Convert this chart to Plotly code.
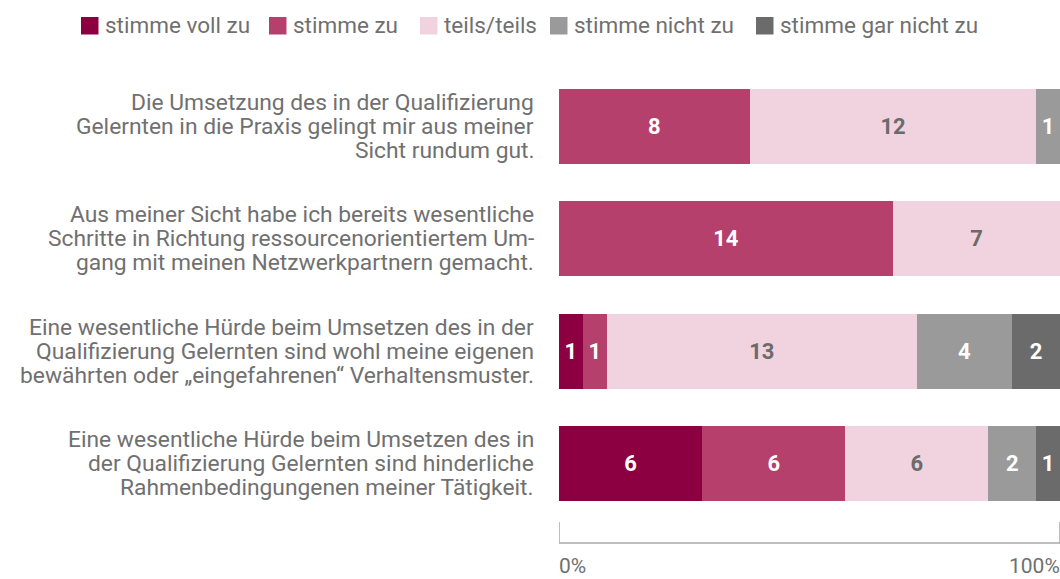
import plotly.graph_objects as go

categories = [
    "Die Umsetzung des in der Qualifizierung<br>Gelernten in die Praxis gelingt mir aus meiner<br>Sicht rundum gut.",
    "Aus meiner Sicht habe ich bereits wesentliche<br>Schritte in Richtung ressourcenorientiertem Um-<br>gang mit meinen Netzwerkpartnern gemacht.",
    "Eine wesentliche Hürde beim Umsetzen des in der<br>Qualifizierung Gelernten sind wohl meine eigenen<br>bewährten oder „eingefahrenen“ Verhaltensmuster.",
    "Eine wesentliche Hürde beim Umsetzen des in<br>der Qualifizierung Gelernten sind hinderliche<br>Rahmenbedingungenen meiner Tätigkeit.",
]
series_names = ["stimme voll zu", "stimme zu", "teils/teils", "stimme nicht zu", "stimme gar nicht zu"]
voll_zu = [0, 0, 1, 6]
zu = [8, 14, 1, 6]
teils = [12, 7, 13, 6]
nicht_zu = [1, 0, 4, 2]
gar_nicht_zu = [0, 0, 2, 1]
series_values = [voll_zu, zu, teils, nicht_zu, gar_nicht_zu]
axis_labels = ["0%", "100%"]

colors = ["#8C0041", "#B5406B", "#F0D3DE", "#9A9A9A", "#6B6B6B"]
text_colors = ["#FFFFFF", "#FFFFFF", "#6B6B6B", "#FFFFFF", "#FFFFFF"]
label_gray = "#707070"
FONT = "Roboto"

W, H = 1060, 579
ML, MR, MT, MB = 559, 0, 70, 59
PW, PH = W - ML - MR, H - MT - MB

def px_x(p):
    return (p - ML) / PW

def px_y(p):
    return (H - MB - p) / PH

fig = go.Figure()
for name, vals, col, tcol in zip(series_names, series_values, colors, text_colors):
    fig.add_trace(go.Bar(
        y=categories, x=vals, name=name, orientation="h",
        marker=dict(color=col, line=dict(width=0)),
        text=[str(v) if v else "" for v in vals],
        textposition="inside", insidetextanchor="middle",
        textfont=dict(family=FONT, size=22, color=tcol, weight="bold"),
        constraintext="none", cliponaxis=False, showlegend=False,
        hoverinfo="skip",
    ))

# category labels, one annotation per line (tight line spacing)
LINE_H = 24
for cat in categories:
    lines = cat.split("<br>")
    n = len(lines)
    for i, ln in enumerate(lines):
        fig.add_annotation(xref="paper", yref="y", x=px_x(535), y=cat, text=ln,
                           showarrow=False, xanchor="right", yanchor="middle",
                           yshift=((n - 1) / 2 - i) * LINE_H, borderpad=0,
                           font=dict(family=FONT, size=22.8, color=label_gray))

# legend (manual)
swatch_x = [81, 269, 420, 550, 756]
for name, col, sx in zip(series_names, colors, swatch_x):
    fig.add_shape(type="rect", xref="paper", yref="paper",
                  x0=px_x(sx), x1=px_x(sx + 17.5), y0=px_y(34.5), y1=px_y(17),
                  fillcolor=col, line=dict(width=0))
    fig.add_annotation(xref="paper", yref="paper", x=px_x(sx + 23.5), y=px_y(25),
                       text=name, showarrow=False, xanchor="left", yanchor="middle",
                       xshift=-1, borderpad=0,
                       font=dict(family=FONT, size=22.5, color=label_gray))

# bottom bracket axis
line_col = "#A8A8A8"
fig.add_shape(type="line", xref="x", yref="paper", x0=0, x1=100,
              y0=px_y(543), y1=px_y(543), line=dict(color=line_col, width=1.5))
for xv in (0, 100):
    fig.add_shape(type="line", xref="x", yref="paper", x0=xv, x1=xv,
                  y0=px_y(522), y1=px_y(543), line=dict(color=line_col, width=1.5))
fig.add_annotation(xref="x", yref="paper", x=0, y=px_y(566), text=axis_labels[0],
                   showarrow=False, xanchor="left", yanchor="middle", xshift=-1,
                   borderpad=0, font=dict(family=FONT, size=21, color=label_gray))
fig.add_annotation(xref="x", yref="paper", x=100, y=px_y(566), text=axis_labels[1],
                   showarrow=False, xanchor="right", yanchor="middle", xshift=1,
                   borderpad=0, font=dict(family=FONT, size=21, color=label_gray))

fig.update_layout(
    width=W, height=H, barmode="stack", barnorm="percent", bargap=0.333,
    margin=dict(l=ML, r=MR, t=MT, b=MB, autoexpand=False),
    paper_bgcolor="white", plot_bgcolor="white",
    font=dict(family=FONT, color=label_gray),
    xaxis=dict(range=[0, 100], showgrid=False, zeroline=False, showticklabels=False,
               showline=False, fixedrange=True),
    yaxis=dict(autorange="reversed", showgrid=False, zeroline=False, showline=False,
               ticks="", showticklabels=False),
)

fig.write_html("out.html", config={"displayModeBar": False},
               post_script="document.body.style.margin='0';document.body.style.overflow='hidden';")
